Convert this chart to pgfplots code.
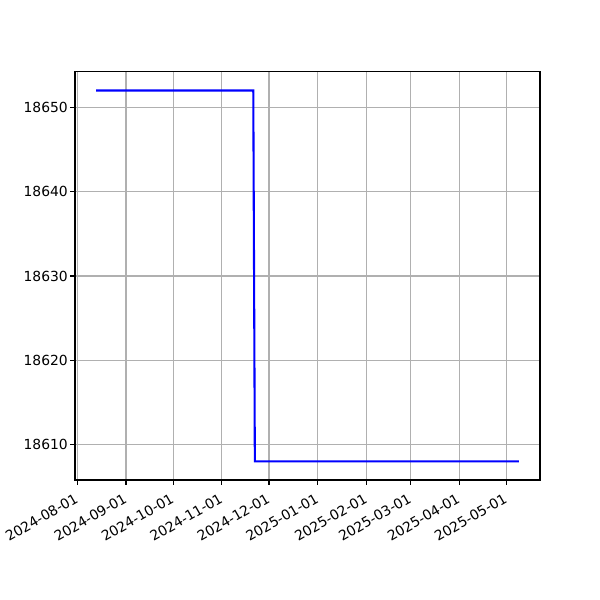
\documentclass[border=0pt]{standalone}
\usepackage{pgfplots}
\pgfplotsset{compat=1.18}
\usepackage{fontspec}
\setmainfont{DejaVu Sans}
\begin{document}
\begin{tikzpicture}
\path[use as bounding box] (-54pt,-86.4pt) rectangle (378pt,345.6pt);
\begin{axis}[
  at={(0,0)}, anchor=south west,
  scale only axis, width=334.8pt, height=293.8pt,
  xmin=-1.45, xmax=294.45, ymin=18605.8, ymax=18654.2,
  xtick={0,31,61,92,122,153,184,212,243,273},
  xticklabels={2024-08-01,2024-09-01,2024-10-01,2024-11-01,2024-12-01,2025-01-01,2025-02-01,2025-03-01,2025-04-01,2025-05-01},
  ytick={18610,18620,18630,18640,18650},
  scaled y ticks=false,
  yticklabel={\pgfmathprintnumber[fixed,precision=0,1000 sep={}]{\tick}},
  /pgf/number format/assume math mode=true,
  ticklabel style={font=\fontsize{10}{12}\selectfont},
  xticklabel style={xshift=-2pt, yshift=-4pt, rotate=30, anchor=north east, inner sep=1pt},
  yticklabel style={inner sep=1pt, xshift=-0.5pt},
  grid=major, major grid style={color=black!31, line width=0.8pt},
  axis line style={line width=0.8pt},
  tick style={black, line width=0.8pt},
  tick align=outside, major tick length=3.5pt,
  xtick pos=bottom, ytick pos=left,
]
\addplot[blue, line width=1.5pt, mark=none] coordinates {
(12,18652) (112,18652) (113,18608) (281,18608)
};
\end{axis}
\end{tikzpicture}
\end{document}
